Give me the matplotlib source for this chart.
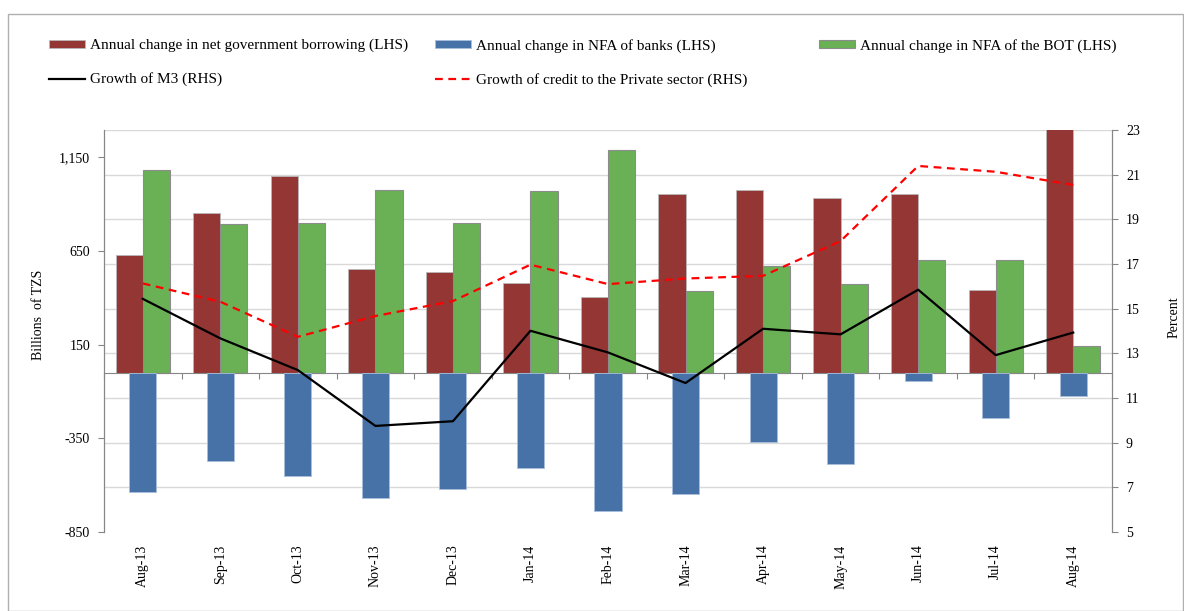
import matplotlib
matplotlib.use("Agg")
import matplotlib.pyplot as plt
import numpy as np
from matplotlib.patches import Rectangle
from matplotlib.ticker import FuncFormatter

months = ["Aug-13", "Sep-13", "Oct-13", "Nov-13", "Dec-13", "Jan-14", "Feb-14",
          "Mar-14", "Apr-14", "May-14", "Jun-14", "Jul-14", "Aug-14"]
gov_borrowing = [628, 855, 1048, 553, 537, 477, 403, 955, 976, 934, 955, 443, 1300]
nfa_banks = [-637, -473, -550, -666, -621, -507, -738, -648, -368, -488, -45, -241, -122]
nfa_bot = [1085, 793, 798, 975, 798, 969, 1189, 435, 568, 475, 600, 600, 145]
m3_growth = [15.44, 13.67, 12.25, 9.75, 9.96, 14.01, 13.04, 11.67, 14.10, 13.85, 15.85, 12.92, 13.93]
credit_growth = [16.13, 15.31, 13.74, 14.67, 15.34, 16.97, 16.10, 16.35, 16.47, 18.03, 21.39, 21.13, 20.54]
left_ticks = [-850, -350, 150, 650, 1150]
right_ticks = [5, 7, 9, 11, 13, 15, 17, 19, 21, 23]

plt.rcParams['font.family'] = ['Liberation Serif', 'DejaVu Serif']
FS = 10
LFS = 11

fig = plt.figure(figsize=(11.84, 6.11), dpi=100)
ax = fig.add_axes([104/1184, 1-532/611, (1112-104)/1184, (532-130)/611])
ax2 = ax.twinx()

x = np.arange(len(months))
w = 0.35
lo, hi = -850, 1296
ax.set_xlim(-0.5, len(months) - 0.5)
ax.set_ylim(lo, hi)
ax2.set_ylim(5, 23)

edge_gray = "#8c8c8c"
b_red = ax.bar(x - w/2, gov_borrowing, w, color="#943634", edgecolor="#b9b9b9", linewidth=0.6, zorder=2,
               label="Annual change in net government borrowing (LHS)")
b_green = ax.bar(x + w/2, nfa_bot, w, color="#6AB156", edgecolor=edge_gray, linewidth=0.8, zorder=2,
                 label="Annual change in NFA of the BOT (LHS)")
b_blue = ax.bar(x, nfa_banks, w, color="#4672A7", edgecolor="#a9bedb", linewidth=0.6, zorder=3,
                label="Annual change in NFA of banks (LHS)")

l1, = ax2.plot(x, m3_growth, color="black", linewidth=1.6, label="Growth of M3 (RHS)")
l2, = ax2.plot(x, credit_growth, color="#ff0000", linewidth=1.6, dashes=(3.5, 2.5),
               label="Growth of credit to the Private sector (RHS)")

# gridlines aligned with right axis ticks, drawn behind bars
grid_vals = [lo + (r - 5) / 18 * (hi - lo) for r in right_ticks]
ax.set_yticks(grid_vals, minor=True)
ax.grid(True, which="minor", axis="y", color="#d9d9d9", linewidth=1.0, zorder=0)
ax.set_axisbelow(True)
ax.tick_params(axis="y", which="minor", length=0)

ax.set_yticks(left_ticks)
ax.yaxis.set_major_formatter(FuncFormatter(lambda v, p: f"{int(v):,}"))
ax.tick_params(axis="y", which="major", direction="out", length=4, color="#868686",
               labelsize=FS, pad=6)
ax2.set_yticks(right_ticks)
ax2.tick_params(axis="y", direction="out", length=4, color="#868686", labelsize=FS, pad=6)

for a in (ax, ax2):
    a.spines["top"].set_visible(False)
    a.spines["left"].set_color("#868686")
    a.spines["right"].set_color("#868686")
ax2.spines["bottom"].set_visible(False)

# category axis crossing at zero with boundary ticks
ax.spines["bottom"].set_position(("data", 0))
ax.spines["bottom"].set_color("#868686")
ax.set_xticks(np.arange(len(months) + 1) - 0.5)
ax.set_xticklabels([])
ax.tick_params(axis="x", direction="out", length=4, color="#868686")

sec = ax.secondary_xaxis("bottom")
sec.set_xticks(x, months, rotation=90, fontsize=FS)
sec.tick_params(length=0, pad=9)
sec.spines["bottom"].set_visible(False)

ax.set_ylabel("Billions  of TZS", fontsize=FS)
ax.yaxis.set_label_coords(-0.059, 0.54)
ax2.set_ylabel("Percent", fontsize=FS)
ax2.yaxis.set_label_coords(1.055, 0.535)

# legend: three fixed columns like the Excel layout
cols = [([b_red, l1], 49), ([b_blue, l2], 435), ([b_green], 819)]
for hs, xpix in cols:
    leg = fig.legend(hs, [h.get_label() for h in hs], loc="upper left",
                     bbox_to_anchor=(xpix/1184, 1 - 39/611), frameon=False,
                     fontsize=LFS, handlelength=2.35, handleheight=0.45,
                     handletextpad=0.35, labelspacing=1.31, borderaxespad=0,
                     borderpad=0)

fig.patches.append(Rectangle((8/1184, 0), 1 - 8/1184 - 0.0005, 1 - 14/611,
                             transform=fig.transFigure, fill=False,
                             edgecolor="#b0b0b0", linewidth=1.0))

fig.savefig("out.png", dpi=100)
